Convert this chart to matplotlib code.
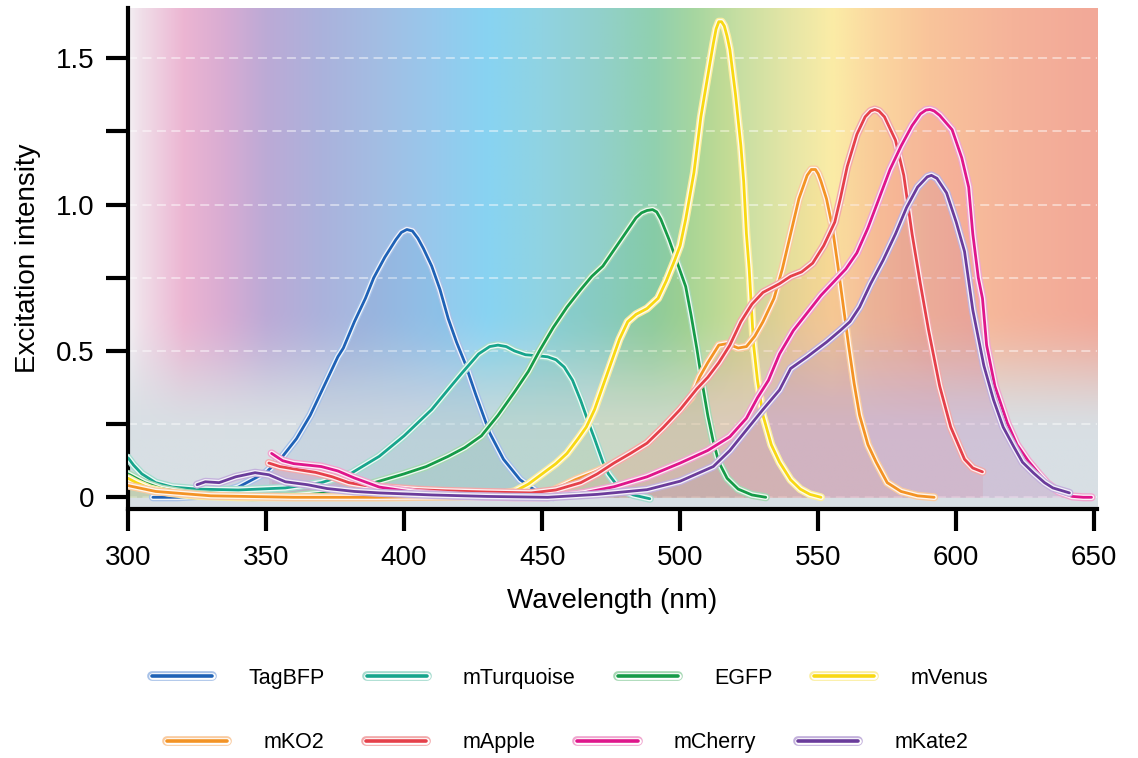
import numpy as np
import matplotlib
matplotlib.use("Agg")
import matplotlib.pyplot as plt
import matplotlib.patheffects as pe
from matplotlib.colors import to_rgb
from matplotlib.lines import Line2D

plt.rcParams['font.family'] = ['Liberation Sans', 'DejaVu Sans']

# excitation spectra (wavelength nm, intensity)
tagbfp_nm = [309, 318, 326, 333, 340, 346, 350, 356, 361, 366, 370, 374, 376, 378, 382, 386, 389, 393,
             397, 399, 401, 403, 405, 407, 410, 413, 416, 419, 422, 426, 431, 436, 442, 448, 454]
tagbfp_y = [0.0, 0.0, 0.005, 0.015, 0.035, 0.065, 0.085, 0.14, 0.2, 0.28, 0.36, 0.44, 0.48, 0.51, 0.6,
            0.68, 0.75, 0.82, 0.88, 0.905, 0.915, 0.91, 0.885, 0.85, 0.79, 0.71, 0.61, 0.53, 0.46,
            0.35, 0.22, 0.13, 0.06, 0.02, 0.0]

mturq_nm = [300, 302, 305, 310, 316, 325, 340, 357, 370, 381, 391, 400, 410, 417, 421, 427, 431, 434,
            437, 440, 444, 448, 452, 455, 458, 461, 464, 467, 469, 472, 474, 478, 483, 489]
mturq_y = [0.135, 0.11, 0.08, 0.05, 0.035, 0.028, 0.025, 0.032, 0.05, 0.083, 0.14, 0.21, 0.3, 0.38,
           0.425, 0.49, 0.515, 0.52, 0.515, 0.5, 0.487, 0.484, 0.48, 0.47, 0.445, 0.4, 0.33, 0.25, 0.2,
           0.12, 0.08, 0.03, 0.008, -0.005]

egfp_nm = [300, 302, 306, 312, 321, 333, 345, 360, 372, 382, 391, 400, 408, 416, 422, 428, 434, 440,
           445, 449, 454, 459, 464, 468, 472, 476, 480, 484, 486, 488, 490, 491.5, 493, 496, 499, 502,
           504, 506, 508, 510, 512, 514, 517, 521, 526, 531]
egfp_y = [0.08, 0.07, 0.05, 0.03, 0.015, 0.005, 0.0, 0.005, 0.015, 0.03, 0.055, 0.08, 0.105, 0.14,
          0.17, 0.21, 0.28, 0.36, 0.43, 0.5, 0.58, 0.65, 0.71, 0.755, 0.79, 0.845, 0.9, 0.955, 0.972,
          0.98, 0.983, 0.975, 0.95, 0.88, 0.8, 0.72, 0.62, 0.51, 0.39, 0.28, 0.19, 0.12, 0.065, 0.028,
          0.008, 0.0]

mvenus_nm = [300, 303, 308, 315, 325, 340, 360, 380, 400, 420, 435, 440, 445, 450, 455, 459, 463, 466,
             469, 472, 475, 478, 481, 484, 488, 492, 495, 498, 500, 502, 505, 507.5, 510, 512, 513, 514,
             515, 516, 517, 518, 520, 522, 523, 524, 525, 526.6, 528, 530, 533, 536, 540, 543.5, 547, 551]
mvenus_y = [0.065, 0.05, 0.03, 0.015, 0.005, 0.0, 0.0, 0.0, 0.0, 0.005, 0.012, 0.02, 0.045, 0.08,
            0.115, 0.15, 0.2, 0.24, 0.3, 0.38, 0.46, 0.54, 0.6, 0.625, 0.645, 0.68, 0.74, 0.81, 0.86,
            0.95, 1.11, 1.3, 1.44, 1.55, 1.6, 1.625, 1.625, 1.61, 1.575, 1.53, 1.38, 1.2, 1.08, 0.9,
            0.78, 0.52, 0.4, 0.28, 0.18, 0.12, 0.06, 0.028, 0.01, 0.0]

mko2_nm = [300, 310, 330, 360, 390, 420, 440, 452, 462, 470, 476, 482, 488, 494, 500, 504, 507, 510,
           514, 517, 521, 524, 527, 530, 534, 537, 540, 543, 546, 547.5, 549, 550, 551, 553, 555, 557,
           559, 561, 563, 565, 568, 571, 575, 580, 586, 592]
mko2_y = [0.04, 0.02, 0.005, 0.0, 0.0, 0.003, 0.008, 0.015, 0.06, 0.09, 0.117, 0.15, 0.185, 0.24,
          0.3, 0.34, 0.41, 0.46, 0.52, 0.525, 0.51, 0.515, 0.55, 0.6, 0.68, 0.78, 0.9, 1.02, 1.1, 1.12,
          1.12, 1.105, 1.08, 1.02, 0.93, 0.8, 0.66, 0.52, 0.39, 0.28, 0.18, 0.12, 0.05, 0.02, 0.005, 0.0]

mapple_nm = [351, 355, 362, 368, 374, 380, 386, 395, 405, 415, 430, 446, 455, 464, 470, 476, 482, 488,
             494, 500, 506, 510, 514, 518, 522, 526, 530, 536, 540, 544, 548, 552, 556, 558, 560.5, 564,
             567, 569, 570.5, 572, 574, 578, 581, 584, 587, 590, 594, 598, 603, 606, 609.5]
mapple_y = [0.117, 0.105, 0.094, 0.085, 0.07, 0.05, 0.04, 0.033, 0.026, 0.022, 0.018, 0.015, 0.025,
            0.05, 0.08, 0.117, 0.15, 0.185, 0.24, 0.3, 0.37, 0.41, 0.46, 0.52, 0.6, 0.66, 0.7, 0.73,
            0.755, 0.77, 0.8, 0.86, 0.94, 1.02, 1.13, 1.24, 1.3, 1.32, 1.325, 1.32, 1.3, 1.22, 1.1,
            0.9, 0.73, 0.57, 0.38, 0.24, 0.13, 0.1, 0.087]

mcherry_nm = [352, 356, 360, 365, 370, 376, 382, 391, 405, 420, 440, 452, 465, 476, 488, 500, 510, 518,
              524, 528, 532, 536, 541, 546, 551, 556, 560, 564, 568, 572, 576, 580, 584, 587, 589,
              590.5, 592, 594, 598.5, 602, 604.5, 606, 608, 609.5, 611, 614, 618.5, 622, 626, 630, 633,
              637, 642, 646, 649]
mcherry_y = [0.15, 0.125, 0.115, 0.11, 0.105, 0.09, 0.066, 0.035, 0.015, 0.005, 0.0, 0.0, 0.015,
             0.036, 0.07, 0.117, 0.16, 0.207, 0.27, 0.34, 0.4, 0.49, 0.57, 0.63, 0.69, 0.74, 0.78,
             0.835, 0.92, 1.02, 1.12, 1.2, 1.27, 1.31, 1.323, 1.325, 1.32, 1.305, 1.256, 1.16, 1.06,
             0.9, 0.75, 0.68, 0.52, 0.38, 0.254, 0.18, 0.125, 0.08, 0.048, 0.02, 0.003, 0.0, 0.0]

mkate2_nm = [325, 328, 333, 339, 346, 351, 357, 365, 372, 382, 391, 410, 430, 452, 470, 488, 500, 512,
             518, 524, 530, 536, 540, 546, 553, 558, 561.5, 565, 569, 573.5, 578, 582, 586, 589.5, 591,
             593, 596.5, 600, 603, 606, 610, 613.5, 617, 621, 624, 628, 632, 635, 641]
mkate2_y = [0.043, 0.053, 0.05, 0.07, 0.084, 0.077, 0.053, 0.043, 0.03, 0.02, 0.015, 0.008, 0.003, 0.0,
            0.01, 0.026, 0.055, 0.105, 0.16, 0.23, 0.3, 0.367, 0.44, 0.48, 0.53, 0.57, 0.6, 0.65, 0.73,
            0.81, 0.9, 0.99, 1.06, 1.095, 1.1, 1.09, 1.04, 0.94, 0.84, 0.64, 0.45, 0.333, 0.24, 0.17,
            0.12, 0.083, 0.05, 0.032, 0.015]

names = ['TagBFP', 'mTurquoise', 'EGFP', 'mVenus', 'mKO2', 'mApple', 'mCherry', 'mKate2']
xs = [tagbfp_nm, mturq_nm, egfp_nm, mvenus_nm, mko2_nm, mapple_nm, mcherry_nm, mkate2_nm]
ys = [tagbfp_y, mturq_y, egfp_y, mvenus_y, mko2_y, mapple_y, mcherry_y, mkate2_y]
colors = ['#1f62b6', '#17a58c', '#169b48', '#f8d814', '#f39325', '#e5404a', '#df168b', '#6a3c9b']
halos = ['#a8c2e8', '#a6dccf', '#a6d8b4', '#fbeea0', '#f9cba0', '#f2a9aa', '#f0a6cf', '#c3b1dc']

# background gradient stops (nm, colour)
bg_nm = [300, 305, 320, 335, 350, 370, 390, 410, 430, 450, 470, 490, 505, 520, 540, 555, 570, 590, 620, 651]
bg_col = ['#f3eff3', '#f0dde8', '#ecb5d2', '#d8acd3', '#bcaad6', '#abb2dc', '#a3bde3', '#98c8ec',
          '#88d3f2', '#90d3e2', '#92d0cc', '#90d0b0', '#a6d6a0', '#c5dea2', '#e6e6a6', '#fbeca6',
          '#fbd8a0', '#f9c49a', '#f5b39a', '#f2a898']
ymin, ymax = -0.04, 1.672

fig = plt.figure(figsize=(11.38, 7.58), dpi=100)
ax = fig.add_axes([0.1125, 0.3285, 0.8515, 0.661])

gx = np.linspace(300, 651, 700)
gy = np.linspace(ymin, ymax, 400)
stops = np.array([to_rgb(c) for c in bg_col])
top = np.stack([np.interp(gx, bg_nm, stops[:, k]) for k in range(3)], axis=-1)
gray = np.array(to_rgb('#d8dfe4'))
t = np.clip((gy - 0.2) / 0.45, 0, 1)
t = t * t * (3 - 2 * t)
img = gray[None, None, :] * (1 - t[:, None, None]) + top[None, :, :] * t[:, None, None]
ax.imshow(img, extent=[300, 651, ymin, ymax], origin='lower', aspect='auto', zorder=0)

for yv in np.arange(0, 1.51, 0.25):
    ax.axhline(yv, color='white', lw=1.3, alpha=0.5, ls=(0, (5, 3)), zorder=1)

for x, y, c, h, n in zip(xs, ys, colors, halos, names):
    ax.fill_between(x, y, 0, color=c, alpha=0.08, lw=0, zorder=2)
    ax.plot(x, y, color=c, lw=2.0, solid_capstyle='round', solid_joinstyle='round', zorder=3,
            path_effects=[pe.Stroke(linewidth=5.8, foreground=h, capstyle='round', joinstyle='round'),
                          pe.Stroke(linewidth=3.9, foreground='white', alpha=0.85, capstyle='round',
                                    joinstyle='round'),
                          pe.Normal()])

ax.set_xlim(300, 651)
ax.set_ylim(ymin, ymax)
ax.set_xticks([300, 350, 400, 450, 500, 550, 600, 650])
ax.set_yticks([0, 0.25, 0.5, 0.75, 1.0, 1.25, 1.5])
ax.set_yticklabels(['0', '', '0.5', '', '1.0', '', '1.5'])
ax.tick_params(direction='out', length=16, width=3, labelsize=20, color='black')
ax.tick_params(axis='x', pad=10)
ax.tick_params(axis='y', pad=8)
for s in ['top', 'right']:
    ax.spines[s].set_visible(False)
for s in ['left', 'bottom']:
    ax.spines[s].set_linewidth(3)

ax.set_xlabel('Wavelength (nm)', fontsize=20)
ax.set_ylabel('Excitation intensity', fontsize=20)
ax.xaxis.set_label_coords(0.5, -0.158)
ax.yaxis.set_label_coords(-0.09, 0.5)

handles = []
for c, h, n in zip(colors, halos, names):
    handles.append(Line2D([0], [0], color=c, lw=2.6, solid_capstyle='round', label=n,
                          path_effects=[pe.Stroke(linewidth=7, foreground=h, capstyle='round'),
                                        pe.Stroke(linewidth=4.8, foreground='white', capstyle='round'),
                                        pe.Normal()]))

leg_kw = dict(ncol=4, frameon=False, fontsize=15.5, handlelength=2.8, handletextpad=1.67,
              columnspacing=1.95, borderpad=0, loc='center')
fig.legend(handles=handles[:4], bbox_to_anchor=(0.501, 0.1055), **leg_kw)
fig.legend(handles=handles[4:], bbox_to_anchor=(0.4987, 0.0198), **leg_kw)

fig.savefig('out.png', dpi=100)
